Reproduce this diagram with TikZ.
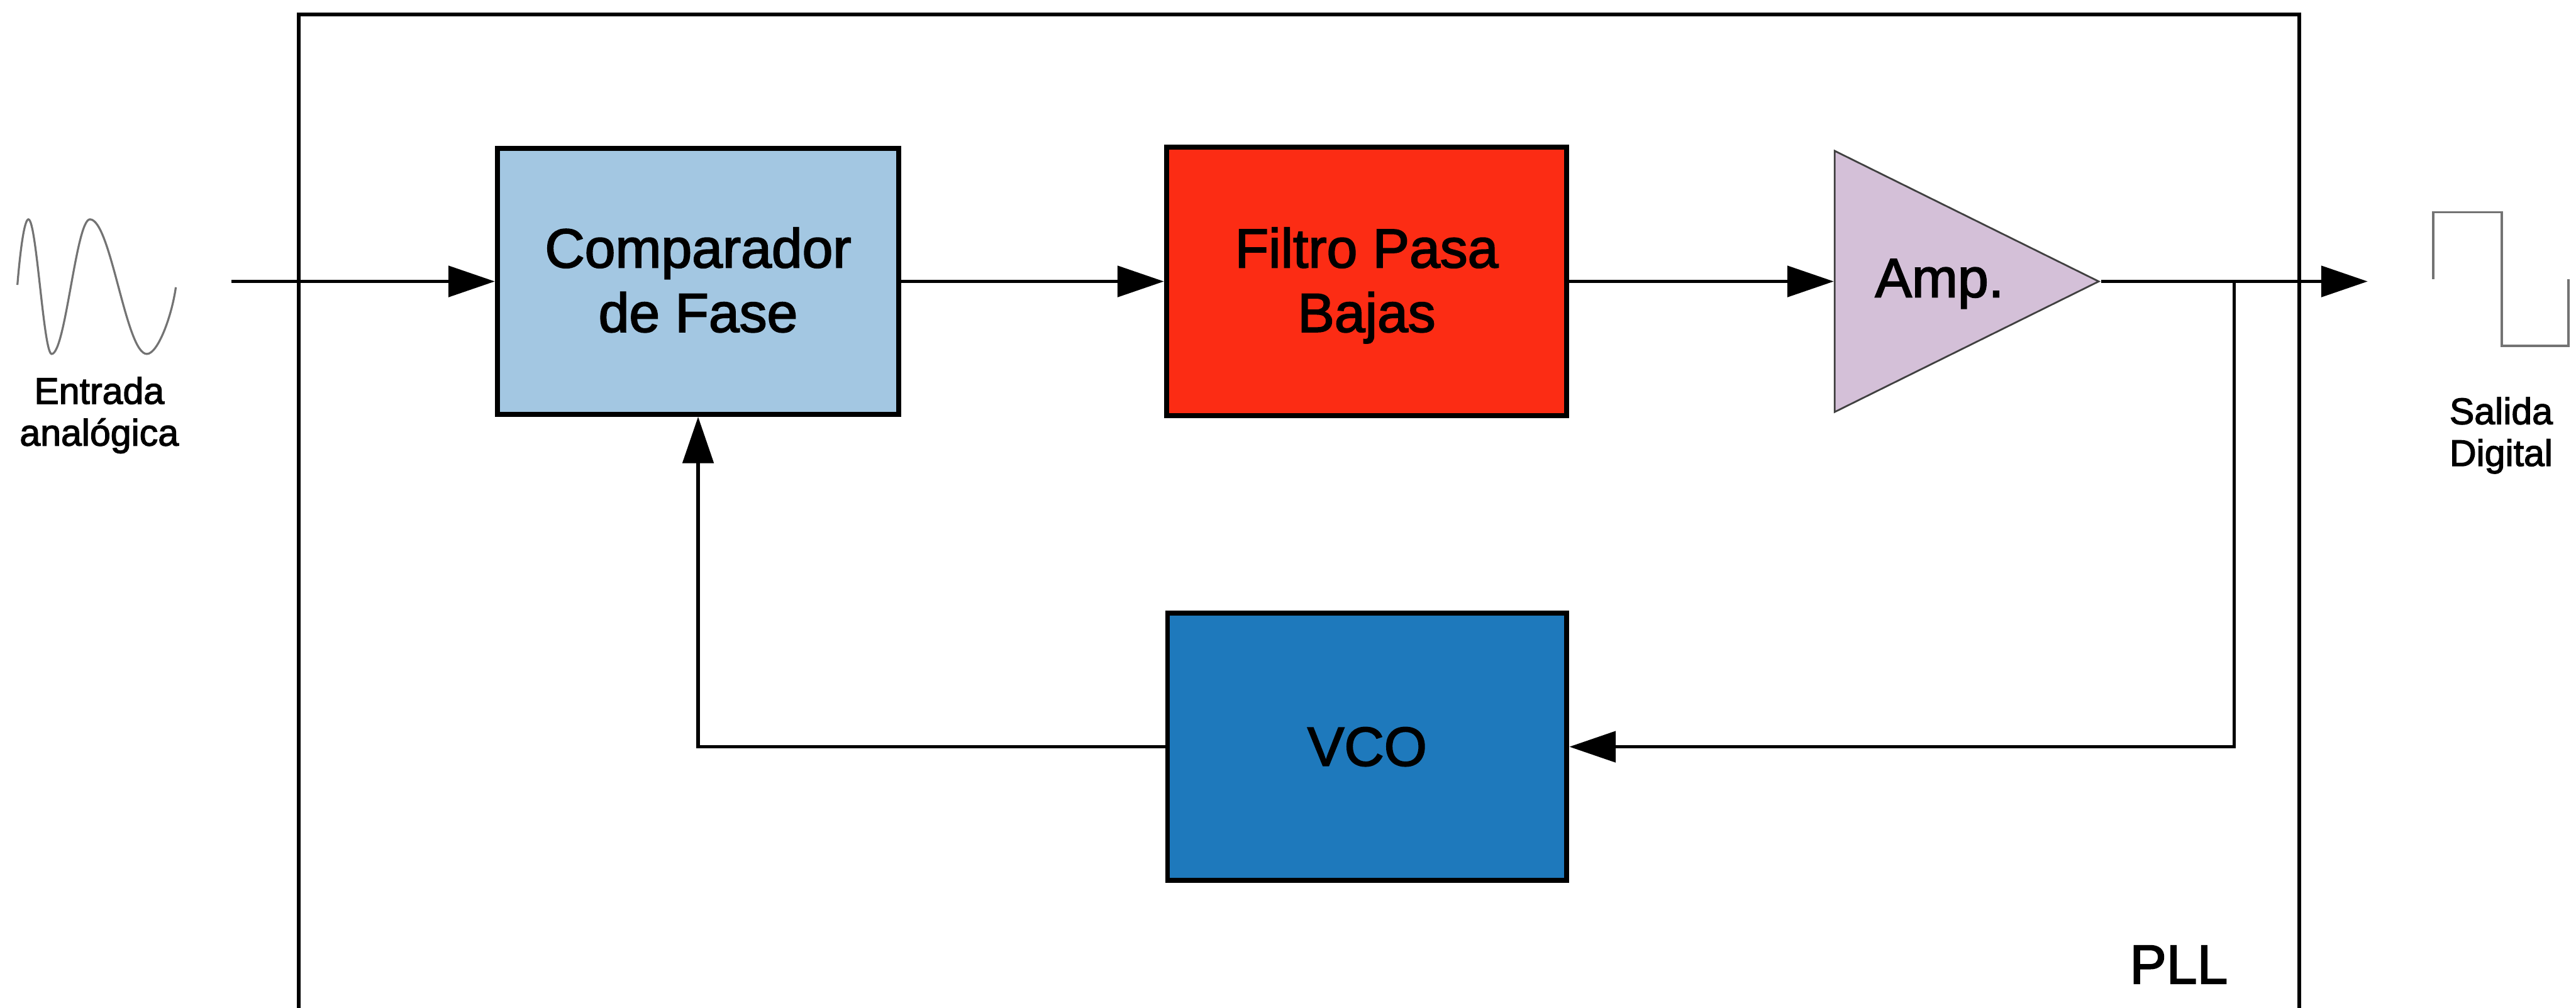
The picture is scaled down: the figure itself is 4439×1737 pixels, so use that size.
\documentclass[tikz,border=0pt]{standalone}
\usepackage{fontspec}
\setmainfont[FakeBold=2.2]{Liberation Sans}
\usetikzlibrary{arrows.meta,shapes.geometric}

\definecolor{cmpblue}{RGB}{163,199,226}
\definecolor{lpfred}{RGB}{252,44,20}
\definecolor{amplilac}{RGB}{212,192,216}
\definecolor{vcoblue}{RGB}{30,121,188}
\definecolor{wavegray}{RGB}{115,115,115}

\tikzset{
  blockbox/.style={draw=black, line width=1.7pt, rectangle, inner sep=0pt,
    align=center, font=\fontsize{19}{22.2}\selectfont},
  twoline/.style={text height=34.8pt, text depth=0pt},
  ampshape/.style={isosceles triangle, isosceles triangle stretches,
    draw=black!75, line width=0.6pt, fill=amplilac, inner sep=0pt,
    minimum width=90pt, minimum height=91pt},
  conn/.style={line width=1.2pt, black},
  tipend/.style={-{Triangle[length=16pt,width=10.6pt]}},
  framebox/.style={line width=1.2pt, black},
  wave/.style={line width=0.7pt, wavegray},
  sidelabel/.style={align=center, inner sep=0pt,
    font=\fontsize{12.8}{14.4}\selectfont},
  bigtext/.style={inner sep=0pt, font=\fontsize{19}{22.2}\selectfont}
}

\begin{document}
\begin{tikzpicture}[x=0.2pt, y=-0.2pt]
\useasboundingbox (0,0) rectangle (4439,1737);

% PLL enclosure (open at the lower edge)
\draw[framebox] (515,1760) -- (515,25) -- (3962,25) -- (3962,1760);
\node[bigtext, anchor=base east] (plllbl) at (3840,1695) {PLL};

% functional blocks
\node[blockbox, twoline, fill=cmpblue, minimum width=138.4pt, minimum height=91.6pt]
  (cmp) at (1203,485) {Comparador\\de Fase};
\node[blockbox, twoline, fill=lpfred, minimum width=138pt, minimum height=92.6pt]
  (flt) at (2355,485) {Filtro Pasa\\Bajas};
\node[blockbox, fill=vcoblue, minimum width=137.6pt, minimum height=92.2pt]
  (vco) at (2356,1287) {VCO};
\node[ampshape, anchor=west] (amp) at (3160,485) {};
\node[bigtext, anchor=base] (amplbl) at (3342,512) {Amp.};

% signal path
\coordinate (src) at (399,485);
\coordinate (out) at (4080,485);
\coordinate (tap) at (3850,485);
\draw[conn, tipend] (src) -- (cmp.west);
\draw[conn, tipend] (cmp.east) -- (flt.west);
\draw[conn, tipend] (flt.east) -- (amp.west);
\draw[conn, tipend] (amp.apex) -- (out);

% feedback loop
\draw[conn, tipend] (tap) |- (vco.east);
\draw[conn, tipend] (vco.west) -| (cmp.south);

% analog input waveform
\draw[wave] (30,491) .. controls (35,430) and (42,378) .. (49,378)
  .. controls (63,378) and (75,610) .. (89,610)
  .. controls (113,610) and (131,378) .. (155,378)
  .. controls (191,378) and (217,610) .. (253,610)
  .. controls (272,610) and (296,545) .. (303,495);
\node[sidelabel, anchor=base] (inlbl) at (171,768) {Entrada\\analógica};

% digital output waveform
\draw[wave] (4193,481) -- (4193,366) -- (4311,366) -- (4311,596)
  -- (4426,596) -- (4426,481);
\node[sidelabel, anchor=base] (outlbl) at (4310,803) {Salida\\Digital};
\end{tikzpicture}
\end{document}
